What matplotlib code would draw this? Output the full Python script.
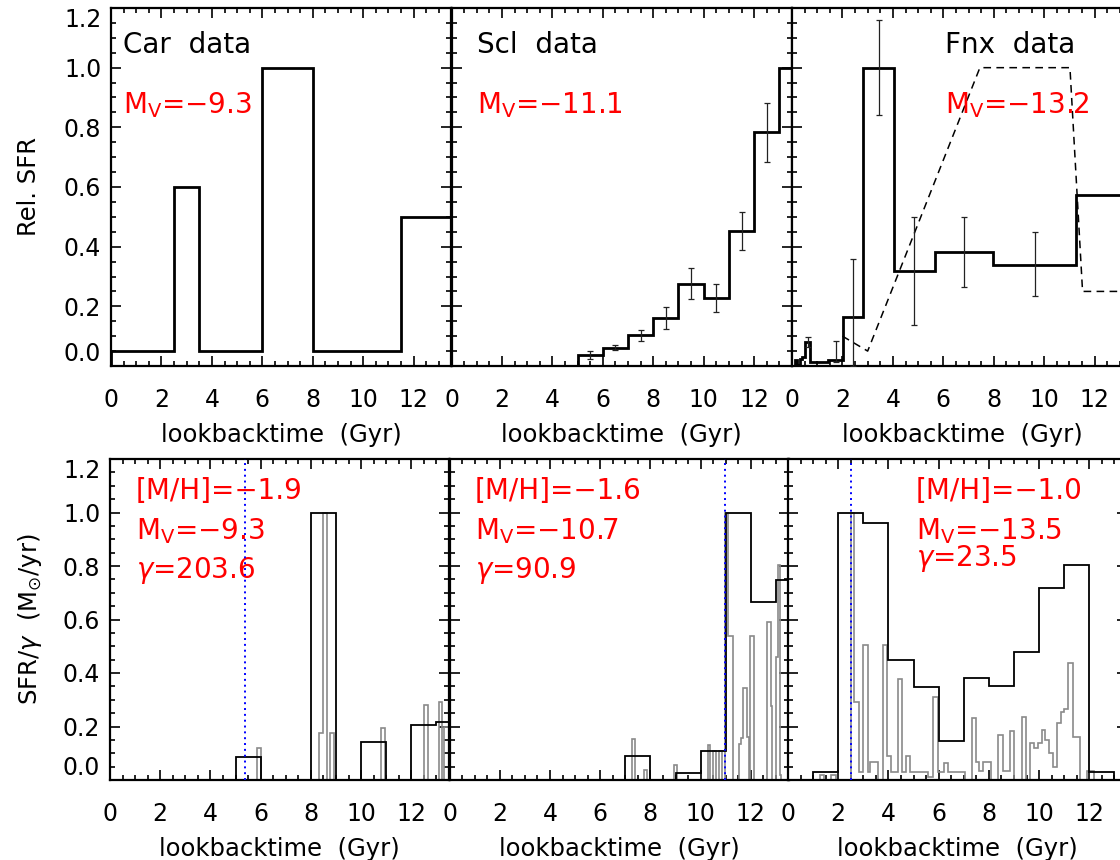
import numpy as np
import matplotlib
matplotlib.use("Agg")
import matplotlib.pyplot as plt
from matplotlib.ticker import MultipleLocator, FormatStrFormatter

plt.rcParams["font.family"] = ["DejaVu Sans"]
plt.rcParams["mathtext.default"] = "regular"

# ------------------------------------------------------- data (top row: observed SFHs)
car_edges = [0, 2.5, 3.5, 6, 8, 11.5, 13.5]
car_sfr = [0.05, 0.6, 0.05, 1.0, 0.05, 0.5]

scl_edges = [0, 5, 6, 7, 8, 9, 10, 11, 12, 13, 13.5]
scl_sfr = [0.0, 0.038, 0.06, 0.103, 0.162, 0.276, 0.228, 0.453, 0.783, 1.0]
scl_err_x = [5.5, 6.5, 7.5, 8.5, 9.5, 10.5, 11.5, 12.5]
scl_err_lo = [0.025, 0.053, 0.083, 0.125, 0.224, 0.181, 0.388, 0.685]
scl_err_hi = [0.049, 0.069, 0.12, 0.198, 0.327, 0.274, 0.517, 0.88]

fnx_edges = [0, 0.1, 0.2, 0.3, 0.4, 0.5, 0.73, 1.43, 2.02, 2.82, 4.03, 5.66,
             7.95, 11.26, 13.5]
fnx_sfr = [0.0, 0.02, 0.005, 0.025, 0.03, 0.082, 0.015, 0.02, 0.163, 1.0,
           0.319, 0.383, 0.34, 0.573]
fnx_err_x = [0.63, 1.74, 2.43, 3.44, 4.83, 6.8, 9.63]
fnx_err_lo = [0.065, 0.015, 0.0, 0.84, 0.139, 0.265, 0.234]
fnx_err_hi = [0.096, 0.085, 0.36, 1.16, 0.5, 0.5, 0.448]
fnx_dash_x = [2.0, 3.0, 7.45, 11.02, 11.52, 13.5]
fnx_dash_y = [0.1, 0.05, 1.0, 1.0, 0.25, 0.25]

# ------------------------------------------------------- data (bottom row: models)
car_mod_edges = [0, 5, 6, 8, 9, 10, 11, 12, 13, 13.5]
car_mod = [0, 0.0875, 0, 1.0, 0, 0.141, 0, 0.206, 0.215]
car_fine_edges = [0, 5.85, 6.02, 8.31, 8.47, 8.64, 8.76, 8.92, 10.78, 10.95,
                  12.5, 12.67, 13.12, 13.23, 13.3, 13.5]
car_fine = [0, 0.12, 0, 0.175, 1.0, 0, 0.175, 0, 0.196, 0, 0.28, 0, 0.29, 0, 0.2]

scl_mod_edges = [0, 7, 8, 9, 10, 11, 12, 13, 13.5]
scl_mod = [0, 0.09, 0, 0.025, 0.1075, 1.0, 0.665, 0.746]
scl_fine_edges = [0, 7.26, 7.39, 7.73, 7.86, 8.93, 9.06, 10.28, 10.38, 10.5,
                  10.6, 10.75, 10.85, 10.98, 11.11, 11.27, 11.51, 11.6, 11.69,
                  11.85, 11.93, 11.96, 12.13, 12.66, 12.8, 12.84, 13.0, 13.1,
                  13.16, 13.22, 13.5]
scl_fine = [0, 0.154, 0, 0.0375, 0, 0.056, 0, 0.13, 0, 0.11, 0, 0.11, 0, 1.0,
            0.539, 0, 0.135, 0.156, 0.343, 0.16, 0, 0.539, 0, 0.59, 0.275, 0,
            0.46, 0.804, 0.02, 0]

fnx_mod_edges = [0, 1, 2, 3, 4, 5, 6, 7, 8, 9, 10, 11, 12, 13, 13.5]
fnx_mod = [0, 0.029, 1.0, 0.96, 0.45, 0.3475, 0.144, 0.383, 0.35, 0.479,
           0.719, 0.804, 0.029, 0]
fnx_fine_edges = [0, 1.29, 1.45, 1.73, 1.9, 2.5, 2.63, 2.83, 2.97, 3.17, 3.27,
                  3.59, 3.77, 3.94, 4.1, 4.37, 4.54, 4.7, 4.86, 5.56, 5.76,
                  5.96, 6.2, 6.39, 7.03, 7.32, 7.49, 7.62, 7.78, 8.09, 8.38,
                  8.55, 8.84, 9.01, 9.3, 9.48, 9.64, 9.79, 9.95, 10.11, 10.25,
                  10.41, 10.57, 10.72, 10.87, 11.0, 11.16, 11.33, 11.63, 11.9,
                  12.2, 13.5]
fnx_fine = [0, 0.02, 0, 0.02, 0, 1.0, 0.29, 0.03, 0.504, 0.03, 0.066, 0,
            0.504, 0.09, 0.03, 0.379, 0.03, 0.09, 0.03, 0.01, 0.31, 0.03,
            0.065, 0.03, 0, 0.232, 0.066, 0.035, 0.066, 0, 0.17, 0.035, 0.182,
            0, 0.237, 0, 0.139, 0.121, 0.139, 0.187, 0.15, 0.1, 0.047, 0.212,
            0.253, 0.264, 0.439, 0.16, 0, 0.035, 0]

age_lines = [5.38, 10.97, 2.51]

top_names = ["Car  data", "Scl  data", "Fnx  data"]
top_mv = ["−9.3", "−11.1", "−13.2"]
bot_mh = ["−1.9", "−1.6", "−1.0"]
bot_mv = ["−9.3", "−10.7", "−13.5"]
bot_gamma = ["203.6", "90.9", "23.5"]

# ------------------------------------------------------- figure
W, H = 1120, 860
fig = plt.figure(figsize=(W / 100, H / 100), dpi=100)


def add_ax(x0, ytop, w, h):
    return fig.add_axes([x0 / W, 1 - (ytop + h) / H, w / W, h / H])


def style(ax, left, ylabel, label_x):
    ax.set_xlim(0, 13.5)
    ax.set_ylim(0, 1.2)
    ax.set_xticks([0, 2, 4, 6, 8, 10, 12])
    ax.xaxis.set_minor_locator(MultipleLocator(0.5))
    ax.set_yticks([0, 0.2, 0.4, 0.6, 0.8, 1.0, 1.2])
    ax.yaxis.set_minor_locator(MultipleLocator(0.05))
    ax.yaxis.set_major_formatter(FormatStrFormatter("%.1f"))
    ax.tick_params(which="both", direction="in", top=True, right=True,
                   width=1.2, labelsize=17)
    ax.tick_params(which="major", length=7)
    ax.tick_params(which="minor", length=3.5)
    ax.tick_params(axis="x", pad=16)
    ax.tick_params(axis="y", pad=7)
    for s in ax.spines.values():
        s.set_linewidth(1.6)
    ax.set_xlabel("lookbacktime  (Gyr)", fontsize=17.5, labelpad=8)
    if left:
        ax.set_ylabel(ylabel, fontsize=17.5)
        ax.yaxis.set_label_coords(label_x, 0.5)
        labs = ax.get_yticklabels()
        labs[0].set_va("bottom")
        labs[-1].set_va("top")
    else:
        ax.tick_params(labelleft=False)


top_x = [111, 451.5, 792]
bot_x = [110, 449.5, 788]
top_axes = [add_ax(x, 8, 340.5, 358) for x in top_x]
bot_axes = [add_ax(x, 459, 339, 321) for x in bot_x]

# top row
tops = [(car_edges, car_sfr), (scl_edges, scl_sfr), (fnx_edges, fnx_sfr)]
for i, ax in enumerate(top_axes):
    e, v = tops[i]
    ax.stairs(v, e, color="black", lw=2.0, zorder=3)
    style(ax, i == 0, "Rel. SFR", -0.205)

top_axes[1].errorbar(scl_err_x, (np.array(scl_err_lo) + scl_err_hi) / 2,
                     yerr=(np.array(scl_err_hi) - scl_err_lo) / 2, fmt="none",
                     ecolor="#222222", elinewidth=0.9, capsize=2, capthick=0.9,
                     zorder=4)
top_axes[2].errorbar(fnx_err_x, (np.array(fnx_err_lo) + fnx_err_hi) / 2,
                     yerr=(np.array(fnx_err_hi) - fnx_err_lo) / 2, fmt="none",
                     ecolor="#222222", elinewidth=0.9, capsize=2, capthick=0.9,
                     zorder=4)
top_axes[2].plot(fnx_dash_x, fnx_dash_y, color="black", lw=1.1,
                 dashes=(5, 3.5), zorder=2)

name_x = [0.48, 1.03, 6.07]
for ax, nx, name, mv in zip(top_axes, name_x, top_names, top_mv):
    ax.text(nx, 1.05, name, fontsize=20, va="baseline")
    ax.text(nx, 0.849, "M$_{V}$=" + mv, fontsize=20, color="red",
            va="baseline")

# bottom row
bots = [(car_mod_edges, car_mod, car_fine_edges, car_fine),
        (scl_mod_edges, scl_mod, scl_fine_edges, scl_fine),
        (fnx_mod_edges, fnx_mod, fnx_fine_edges, fnx_fine)]
txt_x = [1.03, 1.0, 5.08]
gam_y = [0.754, 0.754, 0.8]
for i, ax in enumerate(bot_axes):
    e, v, fe, fv = bots[i]
    ax.stairs(fv, fe, color="#8a8a8a", lw=1.2, zorder=2)
    ax.stairs(v, e, color="black", lw=1.3, zorder=3)
    ax.axvline(age_lines[i], color="blue", lw=1.4, ls=(0, (1, 2)), zorder=4)
    style(ax, i == 0, r"SFR/$\mathit{\gamma}$  (M$_{\odot}$/yr)", -0.195)
    ax.text(txt_x[i], 1.05, "[M/H]=" + bot_mh[i], fontsize=20, color="red",
            va="baseline")
    ax.text(txt_x[i], 0.9, "M$_{V}$=" + bot_mv[i], fontsize=20, color="red",
            va="baseline")
    ax.text(txt_x[i], gam_y[i], r"$\mathit{\gamma}$=" + bot_gamma[i],
            fontsize=20, color="red", va="baseline")

fig.savefig("out.png", dpi=100)
